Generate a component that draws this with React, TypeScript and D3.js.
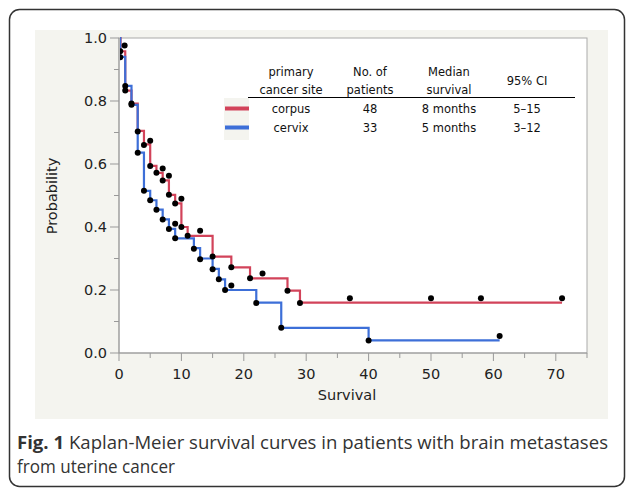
import React from 'react'
import * as d3 from 'd3'

// Kaplan-Meier step curves (time in months, survival probability)
const corpusTime = [0, 0.25, 1, 2, 3, 4, 5, 6, 7, 8, 9, 10, 11, 15, 18, 21, 27, 29, 71]
const corpusSurv = [1, 0.958, 0.833, 0.792, 0.705, 0.662, 0.594, 0.572, 0.548, 0.502, 0.475, 0.4, 0.372, 0.306, 0.272, 0.237, 0.198, 0.16, 0.16]
const cervixTime = [0, 0.2, 1, 2, 3, 4, 5, 6, 7, 8, 9, 12, 13, 15, 16, 17, 22, 26, 40, 61]
const cervixSurv = [1, 0.94, 0.848, 0.788, 0.636, 0.515, 0.485, 0.455, 0.424, 0.394, 0.364, 0.333, 0.3, 0.267, 0.234, 0.2, 0.16, 0.08, 0.04, 0.04]

// black point marks
const corpusDotTime = [0.2, 0.9, 1, 2, 3, 4, 5, 5, 6, 7, 7, 8, 8, 9, 10, 10, 11, 13, 15, 18, 21, 23, 27, 29, 37, 50, 58, 71]
const corpusDotProb = [0.958, 0.976, 0.833, 0.792, 0.703, 0.66, 0.674, 0.594, 0.572, 0.586, 0.548, 0.563, 0.502, 0.475, 0.49, 0.4, 0.372, 0.388, 0.306, 0.272, 0.237, 0.252, 0.198, 0.159, 0.174, 0.174, 0.174, 0.174]
const cervixDotTime = [0.2, 1, 2, 3, 4, 5, 6, 7, 8, 9, 9, 12, 13, 15, 16, 17, 18, 22, 26, 40, 61]
const cervixDotProb = [0.939, 0.848, 0.788, 0.636, 0.515, 0.485, 0.455, 0.424, 0.394, 0.41, 0.364, 0.331, 0.298, 0.266, 0.234, 0.2, 0.214, 0.159, 0.08, 0.04, 0.054]

const xTicks = [0, 10, 20, 30, 40, 50, 60, 70]
const yTicks = [0, 0.2, 0.4, 0.6, 0.8, 1.0]

const tableHead = [['primary', 'cancer site'], ['No. of', 'patients'], ['Median', 'survival'], ['95% CI']]
const groups = ['corpus', 'cervix']
const patients = ['48', '33']
const medians = ['8 months', '5 months']
const cis = ['5\u201315', '3\u201312']

const RED = '#d2435a'
const BLUE = '#3d6fd8'

export default function App () {
  const x = d3.scaleLinear().domain([0, 75]).range([119, 587])
  const y = d3.scaleLinear().domain([0, 1]).range([353, 38])
  const line = d3.line<[number, number]>().x(d => x(d[0])).y(d => y(d[1])).curve(d3.curveStepAfter)
  const corpus = corpusTime.map((t, i) => [t, corpusSurv[i]] as [number, number])
  const cervix = cervixTime.map((t, i) => [t, cervixSurv[i]] as [number, number])
  const dots = corpusDotTime.map((t, i) => [t, corpusDotProb[i]])
    .concat(cervixDotTime.map((t, i) => [t, cervixDotProb[i]]))
  const minorX = d3.range(5, 80, 10)
  const minorY = d3.range(0.1, 1, 0.2)
  const tick = {fontFamily: 'DejaVu Sans', fontSize: 14.5, fill: '#222'}
  const tab = {fontFamily: 'DejaVu Sans', fontSize: 11.5, fill: '#111'}
  const cols = [291, 370, 449, 527]

  return (
    <svg width={627} height={490} style={{position: 'absolute', left: 0, top: 0}}>
      <rect x={0} y={0} width={627} height={490} fill='#fff' />
      <rect x={9.5} y={9.5} width={615} height={477} rx={10} fill='none' stroke='#333' strokeWidth={1.5} />
      <rect x={35} y={30} width={573} height={389} fill='#f4f4ef' />
      <rect x={x(0)} y={y(1)} width={x(75) - x(0)} height={y(0) - y(1)} fill='#fff' stroke='#aaa' />
      <defs>
        <clipPath id='plot'>
          <rect x={x(0) + 1} y={y(1) - 6} width={x(75) - x(0)} height={y(0) - y(1) + 6} />
        </clipPath>
      </defs>

      {/* y axis */}
      {yTicks.map(v => (
        <g key={'y' + v}>
          <line x1={x(0) - 9} x2={x(0)} y1={y(v)} y2={y(v)} stroke='#999' />
          <text x={x(0) - 12} y={y(v)} dy='0.35em' textAnchor='end' {...tick}>{v.toFixed(1)}</text>
        </g>
      ))}
      {minorY.map(v => (
        <line key={'my' + v} x1={x(0) - 5} x2={x(0)} y1={y(v)} y2={y(v)} stroke='#999' />
      ))}
      {/* x axis */}
      {xTicks.map(v => (
        <g key={'x' + v}>
          <line x1={x(v)} x2={x(v)} y1={y(0)} y2={y(0) + 8} stroke='#999' />
          <text x={x(v)} y={y(0) + 21} dy='0.35em' textAnchor='middle' {...tick}>{v}</text>
        </g>
      ))}
      {minorX.map(v => (
        <line key={'mx' + v} x1={x(v)} x2={x(v)} y1={y(0)} y2={y(0) + 5} stroke='#999' />
      ))}
      <line x1={x(0)} x2={x(0)} y1={y(1)} y2={y(0)} stroke='#999' />
      <line x1={x(0)} x2={x(75)} y1={y(0)} y2={y(0)} stroke='#999' />
      <text x={347} y={395} dy='0.35em' textAnchor='middle' {...tick}>Survival</text>
      <text transform='translate(52,196) rotate(-90)' dy='0.35em' textAnchor='middle' {...tick}>Probability</text>

      {/* curves */}
      <g clipPath='url(#plot)'>
        <path d={line(corpus) || ''} fill='none' stroke={RED} strokeWidth={2.2} />
        <path d={line(cervix) || ''} fill='none' stroke={BLUE} strokeWidth={2.2} />
        {dots.map((d, i) => (
          <circle key={i} cx={x(d[0])} cy={y(d[1])} r={3} fill='#000' />
        ))}
      </g>

      {/* legend table */}
      <rect x={224} y={98} width={25} height={42} fill='#f4f4ef' />
      {tableHead.map((h, i) => h.length === 2
        ? (
          <g key={'h' + i}>
            <text x={cols[i]} y={72} dy='0.35em' textAnchor='middle' {...tab}>{h[0]}</text>
            <text x={cols[i]} y={89.5} dy='0.35em' textAnchor='middle' {...tab}>{h[1]}</text>
          </g>
          )
        : <text key={'h' + i} x={cols[i]} y={81} dy='0.35em' textAnchor='middle' {...tab}>{h[0]}</text>
      )}
      <line x1={248} x2={575} y1={97.5} y2={97.5} stroke='#000' />
      {groups.map((g, i) => {
        const yy = 108.5 + i * 19
        return (
          <g key={g}>
            <line x1={225} x2={249} y1={yy} y2={yy} stroke={i === 0 ? RED : BLUE} strokeWidth={4} />
            <text x={cols[0]} y={yy} dy='0.35em' textAnchor='middle' {...tab}>{g}</text>
            <text x={cols[1]} y={yy} dy='0.35em' textAnchor='middle' {...tab}>{patients[i]}</text>
            <text x={cols[2]} y={yy} dy='0.35em' textAnchor='middle' {...tab}>{medians[i]}</text>
            <text x={cols[3]} y={yy} dy='0.35em' textAnchor='middle' {...tab}>{cis[i]}</text>
          </g>
        )
      })}

      {/* caption */}
      <text x={17} y={449} textLength={591} lengthAdjust='spacingAndGlyphs'
        style={{fontFamily: 'Open Sans', fontSize: 17.5, fill: '#333'}}>
        <tspan fontWeight='bold'>Fig. 1</tspan> Kaplan-Meier survival curves in patients with brain metastases
      </text>
      <text x={17} y={473} style={{fontFamily: 'Open Sans', fontSize: 17.5, fill: '#333'}}
        textLength={158} lengthAdjust='spacingAndGlyphs'>from uterine cancer</text>
    </svg>
  )
}
